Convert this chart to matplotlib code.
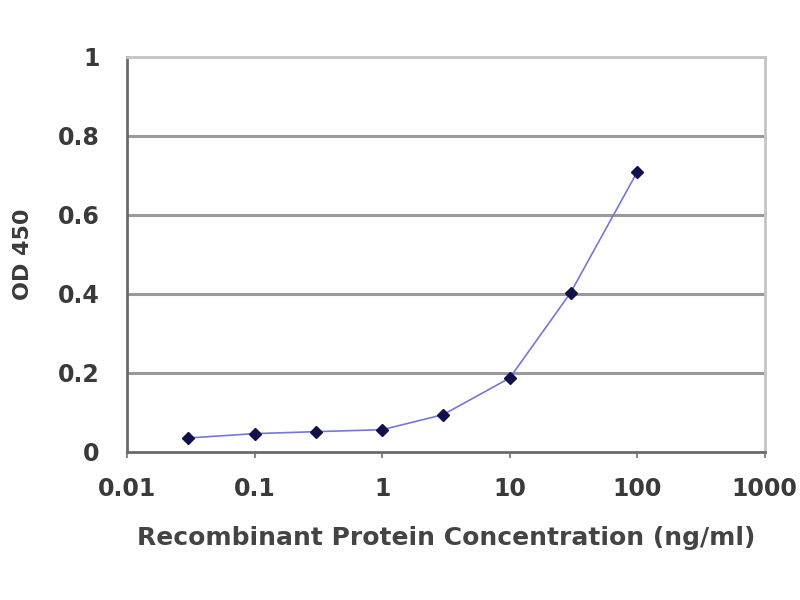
import matplotlib
matplotlib.use("Agg")
import matplotlib.pyplot as plt
from matplotlib.ticker import FixedLocator, FixedFormatter, NullLocator

conc = [0.03, 0.1, 0.3, 1, 3, 10, 30, 100]
od450 = [0.035, 0.046, 0.051, 0.056, 0.094, 0.187, 0.403, 0.709]

x_ticks = [0.01, 0.1, 1, 10, 100, 1000]
x_tick_labels = ["0.01", "0.1", "1", "10", "100", "1000"]
y_ticks = [0, 0.2, 0.4, 0.6, 0.8, 1]
y_tick_labels = ["0", "0.2", "0.4", "0.6", "0.8", "1"]

fig = plt.figure(figsize=(8, 6), dpi=100)
ax = fig.add_axes([0.159, 0.247, 0.797, 0.658])

ax.plot(conc, od450, color="#7777d8", linewidth=1.2, zorder=3)
ax.plot(conc, od450, linestyle="none", marker="D", markersize=6,
        color="#10104a", zorder=4)

ax.set_xscale("log")
ax.set_xlim(0.01, 1000)
ax.set_ylim(0, 1)
ax.xaxis.set_major_locator(FixedLocator(x_ticks))
ax.xaxis.set_major_formatter(FixedFormatter(x_tick_labels))
ax.xaxis.set_minor_locator(NullLocator())
ax.set_yticks(y_ticks)
ax.set_yticklabels(y_tick_labels)

for y in y_ticks[1:-1]:
    ax.axhline(y, color="#9a9a9a", linewidth=2.2, zorder=1)

for side in ["left", "bottom"]:
    ax.spines[side].set_color("#6a6a6a")
    ax.spines[side].set_linewidth(2)
for side in ["top", "right"]:
    ax.spines[side].set_color("#c4c4c4")
    ax.spines[side].set_linewidth(2)

ax.tick_params(axis="x", length=4, width=1.5, color="#8a8a8a",
               labelsize=17, pad=14, labelcolor="#3a3a3a")
ax.tick_params(axis="y", length=0, labelsize=17, pad=20,
               labelcolor="#3a3a3a")
for lbl in ax.get_xticklabels() + ax.get_yticklabels():
    lbl.set_fontweight("bold")

ax.set_xlabel("Recombinant Protein Concentration (ng/ml)", fontsize=18,
              fontweight="bold", color="#444444", labelpad=18)
ax.set_ylabel("OD 450", fontsize=16, fontweight="bold", color="#3a3a3a",
              labelpad=18)

fig.savefig("out.png", dpi=100)
